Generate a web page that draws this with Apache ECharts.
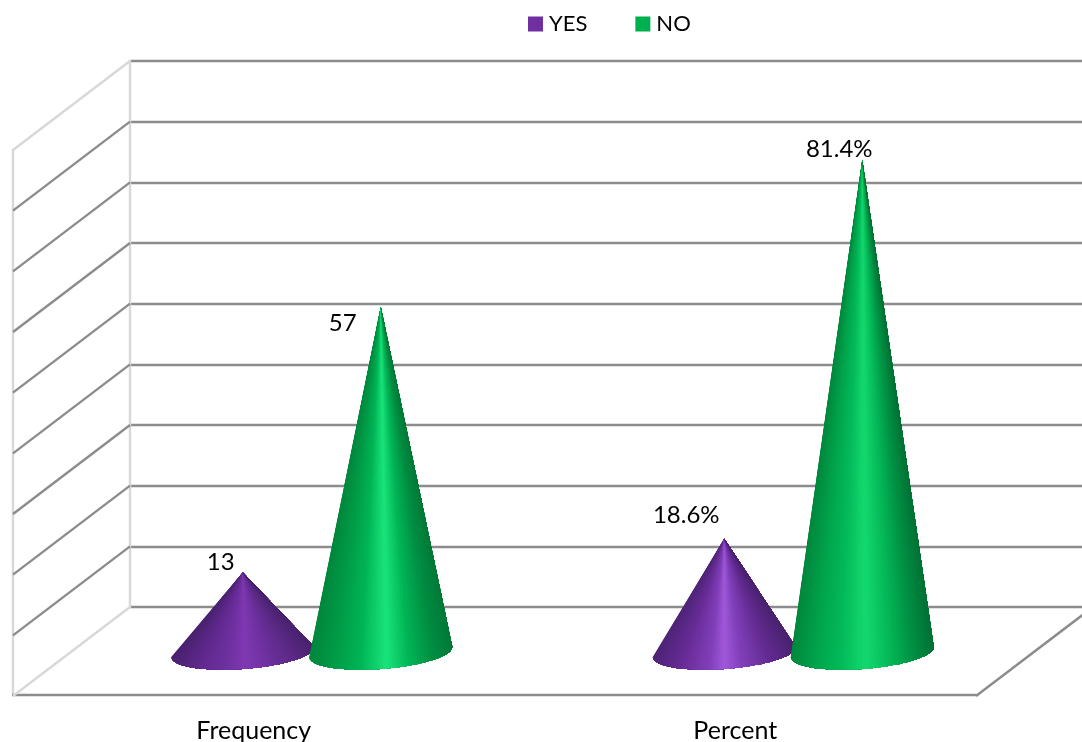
<!DOCTYPE html>
<html>
<head>
<meta charset="utf-8">
<style>html,body{margin:0;padding:0;background:#fff}#chart{width:1082px;height:742px}</style>
<script src="https://cdn.jsdelivr.net/npm/echarts@6/dist/echarts.min.js"></script>
</head>
<body>
<div id="chart"></div>
<script>
// Survey answers, by count and by share
const categories = ['Frequency', 'Percent'];
const yesValues = [13, 18.6];
const noValues = [57, 81.4];
const yesLabels = ['13', '18.6%'];
const noLabels = ['57', '81.4%'];
const wallTicks = [0, 10, 20, 30, 40, 50, 60, 70, 80, 90];

// Box projection: how far the front plane sits from the back wall, in pixels
const DEPTH_X = -117;
const DEPTH_Y = 89;
const FONT = 'Lato, "Open Sans", sans-serif';
const TEXT = '#000000';
const GRID_DARK = '#8c8c8c';
const GRID_LIGHT = '#d8d8d8';
const LINE_WIDTH = 2.4;

// Surface tones across a cone, left edge to right edge, one set per category
const yesTones = [
  [[0, '#4a2270'], [0.2, '#61298f'], [0.4, '#7031a2'], [0.52, '#8038b3'], [0.66, '#7031a2'], [0.85, '#5c2a87'], [1, '#4a2270']],
  [[0, '#4f2478'], [0.2, '#682c97'], [0.4, '#8140ba'], [0.5, '#a058da'], [0.62, '#8140ba'], [0.82, '#642b92'], [1, '#4a2270']]
];
const noTones = [
  [[0, '#00873d'], [0.18, '#009c47'], [0.36, '#00b556'], [0.54, '#1ae47b'], [0.7, '#00b556'], [0.86, '#008f43'], [1, '#007a38']],
  [[0, '#00873d'], [0.18, '#00a54c'], [0.36, '#04bb5a'], [0.52, '#14d96f'], [0.7, '#04b757'], [0.86, '#008f43'], [1, '#007235']]
];

function toneAt(stops, u) {
  let i = 0;
  while (i < stops.length - 2 && u > stops[i + 1][0]) i++;
  const [u0, c0] = stops[i], [u1, c1] = stops[i + 1];
  const k = Math.min(1, Math.max(0, (u - u0) / (u1 - u0)));
  const ch = (c, p) => parseInt(c.substr(p, 2), 16);
  const mix = p => Math.round(ch(c0, p) + (ch(c1, p) - ch(c0, p)) * k);
  return 'rgb(' + mix(1) + ',' + mix(3) + ',' + mix(5) + ')';
}

// A cone is painted left to right: each layer covers everything from its rim point
// to the right end, so the tones blend with no seams between neighbouring layers.
function coneSeries(name, color, values, labels, tones, side, labelOffsets) {
  const RX = 71.5, RY = 17, TILT = 0.07, STEPS = 80;
  return {
    type: 'custom',
    name: name,
    xAxisIndex: 2,
    yAxisIndex: 2,
    silent: true,
    clip: false,
    itemStyle: { color: color },
    encode: { x: 0, y: 1 },
    data: values.map((v, i) => [i, v]),
    renderItem: function (params, api) {
      const idx = api.value(0), v = api.value(1);
      const apex = api.coord([idx, v]);
      apex[0] += side * 69;
      const foot = api.coord([idx, 0]);
      const cx = foot[0] + side * 69, cy = foot[1] + 1;
      const rimPoints = [];
      for (let s = 0; s <= STEPS; s++) {
        const t = Math.PI * s / STEPS;
        const dx = -RX * Math.cos(t);
        rimPoints.push([cx + dx, cy + RY * Math.sin(t) - TILT * dx]);
      }
      const children = [];
      for (let s = 0; s < STEPS; s++) {
        const mid = Math.PI * (s + 0.5) / STEPS;
        const u = (1 - Math.cos(mid)) / 2;
        children.push({
          type: 'polygon',
          shape: { points: [apex].concat(rimPoints.slice(s)) },
          style: { fill: toneAt(tones[idx], u) }
        });
      }
      children.push({
        type: 'text',
        z2: 50,
        style: {
          text: labels[idx],
          x: apex[0] + labelOffsets[idx][0],
          y: apex[1] + labelOffsets[idx][1],
          align: 'center',
          verticalAlign: 'middle',
          fill: TEXT,
          font: '24px ' + FONT
        }
      });
      return { type: 'group', children: children };
    }
  };
}

// Side wall rungs plus the right-hand floor edge, projected forward from the back wall
const wallSeries = {
  type: 'custom',
  name: 'walls',
  xAxisIndex: 0,
  yAxisIndex: 0,
  silent: true,
  clip: false,
  data: wallTicks.map(v => [0, v]),
  encode: { x: 0, y: 1 },
  renderItem: function (params, api) {
    const v = api.value(1);
    const y = api.coord([0, v])[1];
    const x = params.coordSys.x;
    const edge = v === wallTicks[0] || v === wallTicks[wallTicks.length - 1];
    const children = [{
      type: 'line',
      shape: { x1: x, y1: y, x2: x + DEPTH_X, y2: y + DEPTH_Y },
      style: { stroke: edge ? GRID_LIGHT : GRID_DARK, lineWidth: LINE_WIDTH }
    }];
    if (v === wallTicks[0]) {
      const xr = x + params.coordSys.width;
      children.push({
        type: 'line',
        shape: { x1: xr, y1: y, x2: xr + DEPTH_X, y2: y + DEPTH_Y },
        style: { stroke: GRID_DARK, lineWidth: LINE_WIDTH }
      });
    }
    return { type: 'group', children: children };
  }
};

const hiddenAxis = { show: false };

const option = {
  animation: false,
  backgroundColor: '#ffffff',
  legend: {
    data: [
      { name: 'YES', itemStyle: { color: '#7030a0' } },
      { name: 'NO', itemStyle: { color: '#00b050' } }
    ],
    left: 523,
    top: 8,
    icon: 'rect',
    itemWidth: 15,
    itemHeight: 15,
    itemGap: 48,
    selectedMode: false,
    textStyle: { color: TEXT, fontFamily: FONT, fontSize: 22, padding: [0, 0, 0, 1] }
  },
  grid: [
    { left: 130, top: 61, width: 963, height: 546, outerBoundsMode: 'none' },   // back wall
    { left: 13, top: 150, width: 963, height: 545, outerBoundsMode: 'none' },   // front plane
    { left: 71, top: 108, width: 963, height: 543, outerBoundsMode: 'none' }    // mid-depth, where the cones stand
  ],
  xAxis: [
    { gridIndex: 0, type: 'category', data: categories, ...hiddenAxis },
    {
      gridIndex: 1, type: 'category', data: categories,
      axisLine: { show: true, lineStyle: { color: GRID_DARK, width: LINE_WIDTH } },
      axisTick: { show: false },
      axisLabel: { margin: 23, color: TEXT, fontFamily: FONT, fontSize: 25 }
    },
    { gridIndex: 2, type: 'category', data: categories, ...hiddenAxis }
  ],
  yAxis: [
    {
      gridIndex: 0, type: 'value', min: 0, max: 90, interval: 10,
      axisLine: { show: true, lineStyle: { color: GRID_LIGHT, width: LINE_WIDTH } },
      axisTick: { show: false },
      axisLabel: { show: false },
      splitLine: { show: true, lineStyle: { color: GRID_DARK, width: LINE_WIDTH } }
    },
    {
      gridIndex: 1, type: 'value', min: 0, max: 90, interval: 10,
      axisLine: { show: true, lineStyle: { color: GRID_LIGHT, width: LINE_WIDTH } },
      axisTick: { show: false },
      axisLabel: { show: false },
      splitLine: { show: false }
    },
    { gridIndex: 2, type: 'value', min: 0, max: 90, interval: 10, ...hiddenAxis }
  ],
  series: [
    wallSeries,
    coneSeries('YES', '#7030a0', yesValues, yesLabels, yesTones, -1, [[-22, -10], [-38, -24]]),
    coneSeries('NO', '#00b050', noValues, noLabels, noTones, 1, [[-38, 16], [-23, -11]])
  ]
};

const chart = echarts.init(document.getElementById('chart'), null, { renderer: 'canvas' });
chart.setOption(option);
</script>
</body>
</html>
